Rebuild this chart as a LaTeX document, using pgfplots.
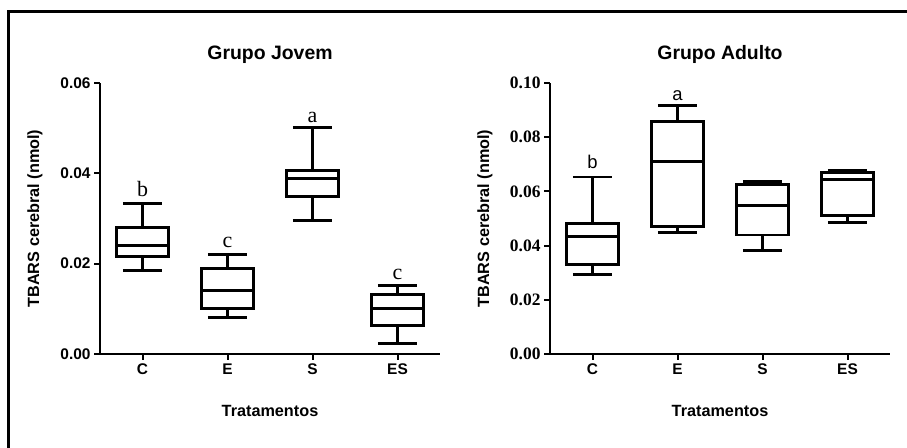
\documentclass[border=0pt]{standalone}
\usepackage{pgfplots}
\pgfplotsset{compat=1.18}
\usepgfplotslibrary{statistics}
\usepackage{fontspec}
\setmainfont{Liberation Sans}
\newfontfamily\sansfont{Liberation Sans}
\newfontfamily\seriffont{Liberation Serif}

\pgfplotsset{
  panel/.style={
    scale only axis, width=340bp, height=271bp,
    axis lines*=left,
    xmin=-0.5, xmax=3.5, xtick={0,1,2,3}, xticklabels={C,E,S,ES},
    tick align=outside, major tick length=6bp,
    every tick/.style={line width=2bp, black},
    axis line style={line width=2bp, black},
    xticklabel style={font=\sansfont\bfseries\fontsize{15.5}{16}\selectfont},
    ymin=0, scaled y ticks=false,
    yticklabel style={/pgf/number format/fixed, /pgf/number format/fixed zerofill,
      /pgf/number format/precision=2, /pgf/number format/assume math mode=true},
    clip=false,
    boxplot/draw direction=y,
    boxplot/box extend=0.62,
    boxplot/whisker extend=0.46,
  },
  bx/.style={black, line width=2.9bp, solid},
}

\begin{document}
\begin{tikzpicture}
\useasboundingbox (0,0) rectangle (907bp,448bp);
\draw[line width=3bp, line join=miter] (8.7bp,0) -- (8.7bp,436.3bp) -- (907bp,436.3bp);

% Left panel: Grupo Jovem
\begin{axis}[panel, at={(100bp,94bp)}, anchor=south west,
  ymax=0.06, ytick={0,0.02,0.04,0.06},
  yticklabel style={font=\sansfont\bfseries\fontsize{15.5}{16}\selectfont}]
\addplot[bx, boxplot prepared={draw position=0, lower whisker=0.0184, lower quartile=0.0216, median=0.0241, upper quartile=0.0280, upper whisker=0.0334}] coordinates {};
\addplot[bx, boxplot prepared={draw position=1, lower whisker=0.0080, lower quartile=0.0100, median=0.0140, upper quartile=0.0190, upper whisker=0.0221}] coordinates {};
\addplot[bx, boxplot prepared={draw position=2, lower whisker=0.0296, lower quartile=0.0348, median=0.0388, upper quartile=0.0407, upper whisker=0.0501}] coordinates {};
\addplot[bx, boxplot prepared={draw position=3, lower whisker=0.0024, lower quartile=0.0064, median=0.0100, upper quartile=0.0132, upper whisker=0.0152}] coordinates {};
\node[anchor=base, font=\seriffont\fontsize{22}{22}\selectfont] at (axis cs:0,0.0348) {b};
\node[anchor=base, font=\seriffont\fontsize{22}{22}\selectfont] at (axis cs:1,0.0235) {c};
\node[anchor=base, font=\seriffont\fontsize{22}{22}\selectfont] at (axis cs:2,0.0512) {a};
\node[anchor=base, font=\seriffont\fontsize{22}{22}\selectfont] at (axis cs:3,0.0166) {c};
\end{axis}

% Right panel: Grupo Adulto
\begin{axis}[panel, at={(550bp,94bp)}, anchor=south west,
  ymax=0.10, ytick={0,0.02,0.04,0.06,0.08,0.10},
  yticklabel style={font=\seriffont\bfseries\fontsize{17.5}{18}\selectfont}]
\addplot[bx, boxplot prepared={draw position=0, lower whisker=0.0293, lower quartile=0.0330, median=0.0434, upper quartile=0.0483, upper whisker=0.0653}] coordinates {};
\addplot[bx, boxplot prepared={draw position=1, lower whisker=0.0449, lower quartile=0.0471, median=0.0711, upper quartile=0.0858, upper whisker=0.0916}] coordinates {};
\addplot[bx, boxplot prepared={draw position=2, lower whisker=0.0382, lower quartile=0.0439, median=0.0547, upper quartile=0.0625, upper whisker=0.0637}] coordinates {};
\addplot[bx, boxplot prepared={draw position=3, lower whisker=0.0486, lower quartile=0.0510, median=0.0643, upper quartile=0.0670, upper whisker=0.0677}] coordinates {};
\node[anchor=base, font=\sansfont\fontsize{18.5}{19}\selectfont] at (axis cs:0,0.0686) {b};
\node[anchor=base, font=\sansfont\fontsize{18.5}{19}\selectfont] at (axis cs:1,0.0936) {a};
\end{axis}

% Titles and axis labels
\node[anchor=base, font=\sansfont\bfseries\fontsize{19.5}{20}\selectfont] at (270bp,388.7bp) {Grupo Jovem};
\node[anchor=base, font=\sansfont\bfseries\fontsize{19.5}{20}\selectfont] at (720bp,388.7bp) {Grupo Adulto};
\node[anchor=base, font=\sansfont\bfseries\fontsize{16.3}{17}\selectfont] at (270bp,31.3bp) {Tratamentos};
\node[anchor=base, font=\sansfont\bfseries\fontsize{16.3}{17}\selectfont] at (720bp,31.3bp) {Tratamentos};
\node[anchor=base, rotate=90, font=\sansfont\bfseries\fontsize{16.3}{17}\selectfont] at (39bp,229.5bp) {TBARS cerebral (nmol)};
\node[anchor=base, rotate=90, font=\sansfont\bfseries\fontsize{16.3}{17}\selectfont] at (489bp,229.5bp) {TBARS cerebral (nmol)};
\end{tikzpicture}
\end{document}
